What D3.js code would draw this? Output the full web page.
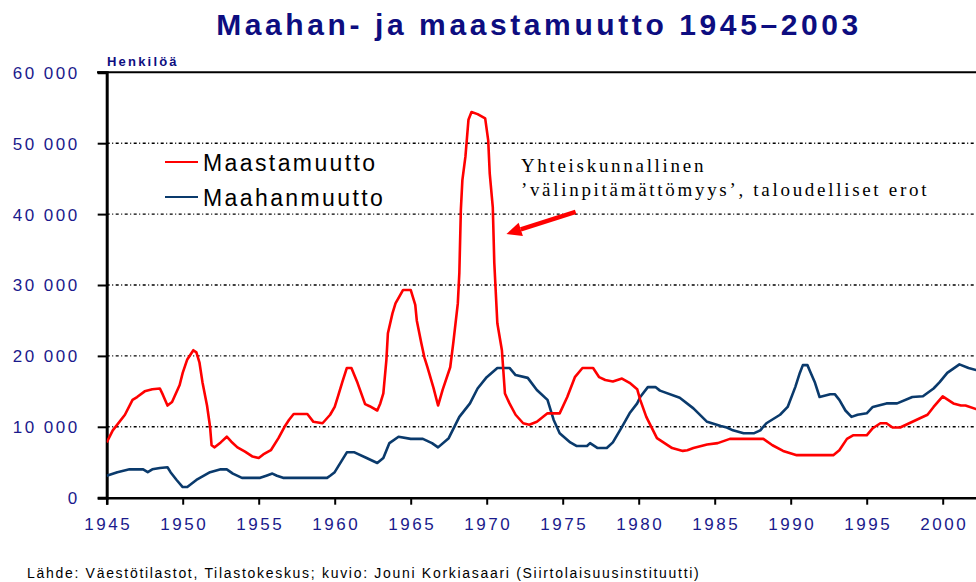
<!DOCTYPE html>
<html>
<head>
<meta charset="utf-8">
<script src="https://cdn.jsdelivr.net/npm/d3@7"></script>
<style>
  body { margin: 0; background: #fff; }
  svg { display: block; font-family: "Liberation Sans", Arial, sans-serif; }
  .grid line { stroke: #000; stroke-width: 1.4; stroke-dasharray: 3,2.5,1,2.5; }
  .tick-label { fill: #1a1a8c; font-size: 17px; letter-spacing: 2.5px; }
</style>
</head>
<body>
<svg id="chart" width="976" height="582"></svg>
<script>
// Maastamuutto (emigration)
const emigYears = [1945.0, 1945.4, 1946.2, 1946.7, 1947.0, 1947.5, 1948.0, 1948.5, 1948.7, 1949.0,
  1949.3, 1949.8, 1950.0, 1950.3, 1950.7, 1950.9, 1951.1, 1951.3, 1951.6, 1951.8,
  1951.9, 1952.1, 1952.5, 1952.9, 1953.2, 1953.6, 1954.1, 1954.6, 1955.0, 1955.3,
  1955.8, 1956.3, 1956.7, 1957.0, 1957.3, 1958.2, 1958.6, 1959.2, 1959.7, 1960.0,
  1960.2, 1960.5, 1960.8, 1961.1, 1961.5, 1962.0, 1962.3, 1962.8, 1963.0, 1963.2,
  1963.4, 1963.5, 1963.8, 1964.0, 1964.5, 1965.0, 1965.3, 1965.4, 1965.7, 1965.9,
  1966.1, 1966.5, 1966.8, 1967.1, 1967.6, 1967.8, 1968.1, 1968.2, 1968.3, 1968.4,
  1968.6, 1968.8, 1969.0, 1969.4, 1969.9, 1970.1, 1970.2, 1970.4, 1970.5, 1970.7,
  1971.0, 1971.2, 1971.5, 1971.9, 1972.4, 1972.8, 1973.3, 1974.0, 1974.8, 1975.3,
  1975.8, 1976.3, 1977.0, 1977.4, 1977.8, 1978.3, 1978.9, 1979.4, 1979.9, 1980.1,
  1980.5, 1981.2, 1982.2, 1982.9, 1983.2, 1983.6, 1984.5, 1985.2, 1986.0, 1988.2,
  1988.8, 1989.5, 1990.4, 1992.8, 1993.2, 1993.7, 1994.1, 1995.0, 1995.4, 1995.9,
  1996.3, 1996.7, 1997.2, 1997.8, 1998.5, 1999.0, 1999.4, 2000.0, 2000.7, 2001.2,
  2001.5, 2002.2, 2003.0];
const emigValues = [7800, 9500, 11700, 13800, 14200, 15000, 15300, 15400, 14500, 13000,
  13500, 15900, 17600, 19500, 20800, 20500, 19100, 16300, 13000, 10000,
  7400, 7100, 7800, 8600, 7900, 7100, 6500, 5800, 5600, 6100,
  6700, 8400, 10000, 11000, 11800, 11800, 10700, 10500, 11700, 12800,
  14200, 16300, 18300, 18300, 16200, 13200, 12900, 12300, 13300, 14700,
  19400, 23200, 26000, 27400, 29300, 29300, 27200, 25000, 21800, 19800,
  18400, 15500, 13000, 15200, 18400, 21800, 27400, 31700, 40600, 44800,
  48100, 53300, 54400, 54100, 53500, 50400, 45700, 41000, 33100, 24600,
  20800, 14700, 13300, 11700, 10500, 10300, 10700, 11900, 11900, 14200,
  17000, 18300, 18300, 17000, 16600, 16400, 16800, 16200, 15300, 13800,
  11400, 8400, 7000, 6600, 6700, 7000, 7500, 7700, 8300, 8300,
  7400, 6600, 6000, 6000, 6700, 8300, 8800, 8800, 9800, 10500,
  10500, 9900, 9900, 10500, 11200, 11700, 12800, 14300, 13300, 13000,
  13000, 12500, 12000];

// Maahanmuutto (immigration)
const immigYears = [1945.0, 1945.7, 1946.5, 1947.4, 1947.7, 1948.0, 1948.5, 1949.0, 1949.2, 1949.6,
  1950.0, 1950.3, 1950.9, 1951.8, 1952.5, 1952.9, 1953.3, 1953.9, 1955.1, 1955.5,
  1955.9, 1956.2, 1956.6, 1959.5, 1959.7, 1960.0, 1960.8, 1961.3, 1962.1, 1962.8,
  1963.2, 1963.6, 1964.2, 1965.0, 1965.8, 1966.4, 1966.8, 1967.5, 1968.2, 1968.9,
  1969.4, 1970.0, 1970.7, 1971.5, 1971.9, 1972.7, 1973.3, 1974.0, 1974.4, 1974.8,
  1975.5, 1975.9, 1976.6, 1976.8, 1977.3, 1977.9, 1978.3, 1978.9, 1979.4, 1979.9,
  1980.1, 1980.6, 1981.1, 1981.4, 1982.7, 1983.6, 1984.5, 1985.4, 1985.8, 1986.2,
  1986.9, 1987.6, 1988.0, 1988.4, 1989.3, 1989.8, 1990.3, 1990.6, 1990.8, 1991.1,
  1991.3, 1991.6, 1991.9, 1992.6, 1992.9, 1993.2, 1993.6, 1994.0, 1994.4, 1995.0,
  1995.4, 1996.3, 1997.0, 1998.0, 1998.7, 1999.4, 1999.8, 2000.3, 2001.1, 2001.7,
  2002.2, 2003.0];
const immigValues = [3100, 3600, 4000, 4000, 3600, 4000, 4200, 4300, 3600, 2500,
  1500, 1500, 2500, 3600, 4000, 4000, 3400, 2800, 2800, 3100,
  3400, 3100, 2800, 2800, 3100, 3600, 6400, 6400, 5600, 4900,
  5600, 7700, 8600, 8300, 8300, 7700, 7100, 8400, 11400, 13300,
  15400, 17000, 18300, 18300, 17300, 16900, 15200, 13800, 11000, 9100,
  7800, 7300, 7300, 7700, 7000, 7000, 7800, 10000, 11900, 13300,
  14200, 15600, 15600, 15100, 14100, 12600, 10700, 10100, 9900, 9500,
  9100, 9100, 9500, 10500, 11700, 12800, 15600, 17600, 18700, 18700,
  17700, 16200, 14200, 14600, 14600, 13800, 12300, 11400, 11700, 11900,
  12800, 13300, 13300, 14200, 14300, 15400, 16300, 17600, 18800, 18300,
  18000, 17800];

const yTicks = [0, 10000, 20000, 30000, 40000, 50000, 60000];
const xTicks = [1945, 1950, 1955, 1960, 1965, 1970, 1975, 1980, 1985, 1990, 1995, 2000];
const seriesNames = ["Maastamuutto", "Maahanmuutto"];
const seriesColors = ["#ff0000", "#0a3a6c"];

const svg = d3.select("#chart");

const x = d3.scaleLinear().domain([1945, 2003]).range([106.7, 988.3]);
const y = d3.scaleLinear().domain([0, 60000]).range([497.7, 72.3]);
const fmt = v => d3.format(",")(v).replace(/,/g, " ");

// Title
svg.append("text")
  .attr("x", 539).attr("y", 35)
  .attr("text-anchor", "middle")
  .attr("fill", "#0d0d80")
  .style("font-size", "30px").style("font-weight", "bold")
  .style("letter-spacing", "3.6px")
  .text("Maahan- ja maastamuutto 1945–2003");

// Unit label
svg.append("text")
  .attr("x", 107).attr("y", 66)
  .attr("fill", "#0d0d80")
  .style("font-size", "13px").style("font-weight", "bold")
  .style("letter-spacing", "2.2px")
  .text("Henkilöä");

// Gridlines (dotted), skip 0 and top
const grid = svg.append("g").attr("class", "grid");
grid.selectAll("line")
  .data(yTicks.filter(d => d > 0 && d < 60000))
  .join("line")
  .attr("x1", x(1945)).attr("x2", 976)
  .attr("y1", d => y(d)).attr("y2", d => y(d));

// Frame: top line, left axis, bottom axis
svg.append("line").attr("x1", 97).attr("x2", 976)
  .attr("y1", y(60000)).attr("y2", y(60000))
  .attr("stroke", "#000").attr("stroke-width", 2);

const yAxis = svg.append("g")
  .attr("transform", `translate(${x(1945)},0)`)
  .call(d3.axisLeft(y).tickValues(yTicks).tickSize(9).tickFormat(fmt));
yAxis.select(".domain").attr("stroke-width", 3);
yAxis.selectAll(".tick line").attr("stroke-width", 2);
yAxis.selectAll(".tick text")
  .attr("class", "tick-label")
  .attr("x", -27).attr("dy", "0.35em")
  .style("font-family", "'Liberation Sans', Arial, sans-serif");

const xAxis = svg.append("g")
  .attr("transform", `translate(0,${y(0)})`)
  .call(d3.axisBottom(x).tickValues(xTicks).tickSize(7).tickFormat(d3.format("d")));
xAxis.select(".domain").attr("stroke-width", 2.5);
xAxis.selectAll(".tick line").attr("stroke-width", 2);
xAxis.selectAll(".tick text")
  .attr("class", "tick-label")
  .attr("y", 20).attr("dy", "0.71em")
  .attr("dx", "1px")
  .style("font-family", "'Liberation Sans', Arial, sans-serif");

// Series lines
const line = d3.line().x(d => x(d[0])).y(d => y(d[1]));
const series = [
  d3.zip(emigYears, emigValues),
  d3.zip(immigYears, immigValues)
];
svg.append("defs").append("clipPath").attr("id", "plot")
  .append("rect").attr("x", x(1945)).attr("y", 60).attr("width", 900).attr("height", 440);
svg.append("g").attr("clip-path", "url(#plot)")
  .selectAll("path")
  .data(series.slice().reverse())
  .join("path")
  .attr("d", line)
  .attr("fill", "none")
  .attr("stroke", (d, i) => seriesColors[1 - i])
  .attr("stroke-width", 2.6)
  .attr("stroke-linejoin", "round");

// Legend
const legend = svg.append("g").attr("transform", "translate(165,162)");
seriesNames.forEach((name, i) => {
  const g = legend.append("g").attr("transform", `translate(0,${i * 35})`);
  g.append("line").attr("x1", 0).attr("x2", 33)
    .attr("stroke", seriesColors[i]).attr("stroke-width", 2.2);
  g.append("text").attr("x", 38).attr("y", 9)
    .attr("fill", "#000")
    .style("font-size", "23px").style("letter-spacing", "2.4px")
    .text(name);
});

// Annotation
const note = svg.append("g")
  .style("font-family", "'Liberation Serif', 'Times New Roman', serif")
  .style("font-size", "19px").style("letter-spacing", "2.7px");
note.append("text").attr("x", x(1972.25)).attr("y", y(46000)).text("Yhteiskunnallinen");
note.append("text").attr("x", x(1972.25)).attr("y", y(42600))
  .text("’välinpitämättömyys’, taloudelliset erot");

const tip = [x(1971.3), y(37200)];
const tail = [x(1975.85), y(40300)];
const ang = Math.atan2(tip[1] - tail[1], tip[0] - tail[0]);
const hl = 15, hw = 7;
const base = [tip[0] - hl * Math.cos(ang), tip[1] - hl * Math.sin(ang)];
svg.append("line")
  .attr("x1", tail[0]).attr("y1", tail[1]).attr("x2", base[0]).attr("y2", base[1])
  .attr("stroke", "#ff0000").attr("stroke-width", 4.5);
svg.append("path")
  .attr("d", `M${tip[0]},${tip[1]}L${base[0] - hw * Math.sin(ang)},${base[1] + hw * Math.cos(ang)}L${base[0] + hw * Math.sin(ang)},${base[1] - hw * Math.cos(ang)}Z`)
  .attr("fill", "#ff0000");

// Source
svg.append("text")
  .attr("x", 27).attr("y", 578)
  .attr("fill", "#000")
  .style("font-size", "14px").style("letter-spacing", "1.7px")
  .text("Lähde: Väestötilastot, Tilastokeskus; kuvio: Jouni Korkiasaari (Siirtolaisuusinstituutti)");
</script>
</body>
</html>
